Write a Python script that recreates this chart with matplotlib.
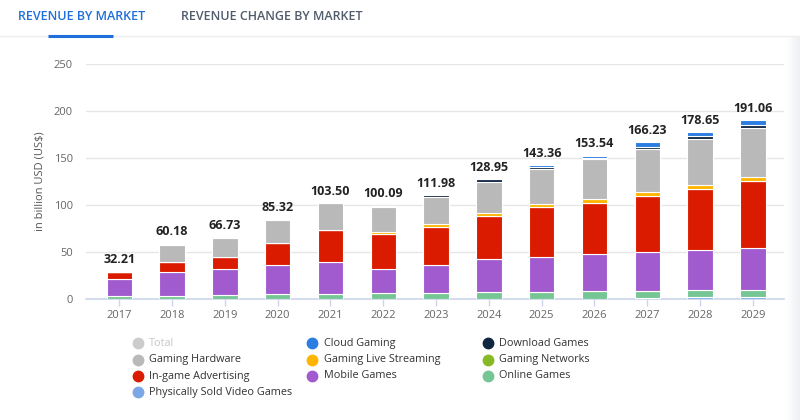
import matplotlib
matplotlib.use("Agg")
import matplotlib.pyplot as plt
from matplotlib.lines import Line2D
import numpy as np

plt.rcParams['font.family'] = ['Open Sans', 'DejaVu Sans']

years = ["2017", "2018", "2019", "2020", "2021", "2022", "2023",
         "2024", "2025", "2026", "2027", "2028", "2029"]
totals = [32.21, 60.18, 66.73, 85.32, 103.50, 100.09, 111.98,
          128.95, 143.36, 153.54, 166.23, 178.65, 191.06]

# stacked from bottom to top
physically_sold = [0.0, 0.0, 0.0, 0.0, 0.0, 0.0, 0.0, 0.0, 0.0, 0.0, 0.6, 2.1, 2.1]
online_games = [3.2, 3.2, 3.9, 5.0, 5.3, 6.0, 6.0, 7.1, 7.1, 8.5, 7.9, 7.5, 7.2]
mobile_games = [18.4, 25.6, 27.7, 31.2, 34.4, 25.6, 30.2, 35.1, 37.9, 39.1, 41.6, 42.6, 45.3]
ingame_ads = [7.5, 10.2, 12.8, 23.8, 33.4, 38.0, 40.9, 46.2, 53.0, 55.0, 59.6, 65.2, 70.7]
gaming_networks = [0.0, 0.0, 0.0, 0.0, 0.0, 0.0, 0.0, 0.0, 0.0, 0.0, 0.0, 0.0, 0.0]
live_streaming = [0.0, 0.0, 0.0, 0.0, 0.3, 2.1, 2.4, 2.9, 2.8, 3.6, 3.9, 4.0, 4.3]
gaming_hardware = [0.0, 18.5, 20.2, 23.8, 28.3, 26.3, 29.5, 33.6, 38.0, 42.6, 46.5, 49.3, 52.5]
download_games = [0.0, 1.4, 1.4, 1.4, 0.5, 1.4, 1.8, 2.6, 2.1, 1.7, 1.5, 2.9, 3.5]
cloud_gaming = [0.0, 0.0, 0.0, 0.0, 0.0, 0.0, 0.0, 0.0, 1.8, 2.1, 4.9, 4.2, 5.0]

stack = [
    ("Physically Sold Video Games", physically_sold, "#7ba7e6"),
    ("Online Games", online_games, "#76c695"),
    ("Mobile Games", mobile_games, "#a15bcf"),
    ("In-game Advertising", ingame_ads, "#da1b00"),
    ("Gaming Networks", gaming_networks, "#86b923"),
    ("Gaming Live Streaming", live_streaming, "#ffb400"),
    ("Gaming Hardware", gaming_hardware, "#b9b9b9"),
    ("Download Games", download_games, "#0f2641"),
    ("Cloud Gaming", cloud_gaming, "#2b7de1"),
]
legend_order = [
    ("Total", "#cccccc"), ("Cloud Gaming", "#2b7de1"), ("Download Games", "#0f2641"),
    ("Gaming Hardware", "#b9b9b9"), ("Gaming Live Streaming", "#ffb400"), ("Gaming Networks", "#86b923"),
    ("In-game Advertising", "#da1b00"), ("Mobile Games", "#a15bcf"), ("Online Games", "#76c695"),
    ("Physically Sold Video Games", "#7ba7e6"),
]

W, H = 800, 420
fig = plt.figure(figsize=(8, 4.2), dpi=100)

def fx(px):
    return px / W

def fy(py):
    return 1 - py / H

ax = fig.add_axes([fx(86), fy(299), fx(784) - fx(86), fy(64) - fy(299)])
x = np.arange(len(years))
bottom = np.zeros(len(years))
for name, vals, col in stack:
    v = np.array(vals, dtype=float)
    ax.bar(x, v, width=0.48, bottom=bottom, color=col, edgecolor="white",
           linewidth=0.8, zorder=3)
    bottom += v

for xi, top, t in zip(x, bottom, totals):
    ax.annotate(f"{t:.2f}", (xi, top), xytext=(0, 8.5), textcoords="offset points",
                ha="center", va="center", fontsize=9, fontweight="bold", color="#222222")

ax.set_xlim(-0.63, 12.59)
ax.set_ylim(0, 250)
ax.set_yticks([0, 50, 100, 150, 200, 250])
ax.set_xticks(x)
ax.set_xticklabels(years)
ax.grid(axis="y", color="#e6e6e6", linewidth=1, zorder=0)
ax.set_axisbelow(True)
for s in ["top", "right", "left"]:
    ax.spines[s].set_visible(False)
ax.spines["bottom"].set_color("#ccd6eb")
ax.spines["bottom"].set_linewidth(1.2)
ax.tick_params(axis="y", length=0, pad=9.5, labelsize=8, labelcolor="#666666")
ax.tick_params(axis="x", length=5, width=1, color="#ccd6eb", pad=3, labelsize=8, labelcolor="#666666")
ax.set_ylabel("in billion USD (US$)", fontsize=8, color="#555555", labelpad=6)

# tabs
fig.text(fx(18), fy(17), "REVENUE BY MARKET", fontsize=9, fontweight="semibold",
         color="#1f6fdc", va="center", ha="left")
fig.text(fx(181), fy(17), "REVENUE CHANGE BY MARKET", fontsize=9, fontweight="semibold",
         color="#505c6c", va="center", ha="left")
fig.add_artist(Line2D([0, 1], [fy(35.5), fy(35.5)], color="#eeeeee", linewidth=1))
fig.add_artist(Line2D([fx(48), fx(113)], [fy(35.5), fy(35.5)], color="#1f6fdc",
                      linewidth=2.2, solid_capstyle="butt"))

# legend
col_marker = [137.7, 312.3, 487.7]
row_y = [343.3, 359.7, 376.0, 392.3]
for i, (name, col) in enumerate(legend_order):
    r, c = divmod(i, 3)
    mx, my = col_marker[c], row_y[r]
    fig.add_artist(Line2D([fx(mx)], [fy(my)], marker="o", markersize=7.5,
                          markerfacecolor=col, markeredgecolor=col, linestyle="none"))
    fig.text(fx(mx + 11.5), fy(my), name, fontsize=7.8,
             color="#c8c8c8" if name == "Total" else "#333333", va="center", ha="left")

# right scroll shadow
sh = fig.add_axes([fx(786), 0, fx(14), fy(36)])
grad = np.linspace(0, 1, 64).reshape(1, -1)
sh.imshow(grad, aspect="auto", cmap=matplotlib.colors.LinearSegmentedColormap.from_list(
    "s", ["#ffffff", "#eef0f3"]), extent=[0, 1, 0, 1])
sh.axis("off")

fig.savefig("out.png", dpi=100)
